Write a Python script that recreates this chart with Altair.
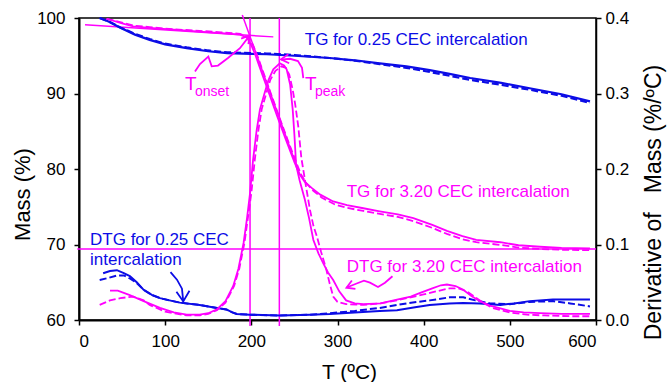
import altair as alt
import pandas as pd

BLUE = "#0c0ce6"
MAG = "#ff00ff"
FONT = "Liberation Sans"

# ---------------- data (T in ºC) ----------------
# TG for 0.25 CEC (Mass %)
tg025_T = [24, 35, 48, 65, 82, 100, 125, 150, 172, 200, 218, 250, 291, 320, 349, 380, 407, 430, 454, 490, 523, 560, 593]
tg025_m = [100.0, 99.5, 98.7, 97.8, 97.1, 96.5, 96.0, 95.6, 95.35, 95.25, 95.2, 95.0, 94.7, 94.4, 94.0, 93.6, 93.1, 92.6, 92.05, 91.4, 90.7, 89.9, 88.95]
tg025d_m = [100.0, 99.5, 98.75, 97.9, 97.2, 96.6, 96.1, 95.7, 95.45, 95.35, 95.3, 95.1, 94.7, 94.35, 93.9, 93.4, 92.85, 92.35, 91.8, 91.15, 90.5, 89.7, 88.75]

# TG for 3.20 CEC (Mass %)
tg320_T = [32, 50, 63, 82, 110, 140, 165, 187, 195, 200, 205, 210, 220, 230, 240, 250, 256, 262, 270, 280, 295, 311, 330, 349, 370, 388, 410, 427, 445, 461, 489, 510, 535, 560, 593]
tg320_m = [99.9, 99.3, 98.9, 98.7, 98.45, 98.2, 98.0, 97.8, 97.4, 96.4, 95.0, 93.4, 90.2, 87.0, 83.9, 80.9, 79.3, 78.3, 77.5, 76.6, 75.7, 75.2, 74.8, 74.4, 74.0, 73.5, 72.6, 71.8, 71.1, 70.6, 70.3, 69.9, 69.7, 69.55, 69.5]
tg320d_T = [32, 50, 63, 82, 110, 140, 165, 187, 197, 202, 207, 212, 222, 232, 242, 252, 258, 264, 272, 282, 297, 311, 330, 349, 370, 388, 410, 427, 445, 461, 489, 510, 535, 560, 593]
tg320d_m = [99.9, 99.4, 99.0, 98.8, 98.5, 98.3, 98.1, 97.9, 97.4, 96.4, 95.0, 93.4, 90.2, 87.0, 83.9, 80.9, 79.2, 78.1, 77.1, 76.2, 75.3, 74.85, 74.45, 74.05, 73.65, 73.1, 72.2, 71.4, 70.7, 70.3, 69.95, 69.6, 69.4, 69.3, 69.25]

# DTG for 3.20 CEC (%/ºC)
dtg320_T = [36, 45, 59, 75, 94, 110, 125, 140, 150, 160, 170, 179, 185, 191, 195, 198.5, 202, 206, 210, 216, 220, 225.5, 233, 238, 241, 245, 248, 250, 252, 256, 262, 267, 272, 278, 283.5, 289, 295, 302, 310, 320, 330, 350, 369, 385, 396, 410, 420, 427, 437, 446, 455, 465, 477, 500, 516, 535, 560, 593]
dtg320_v = [0.039, 0.039, 0.033, 0.025, 0.016, 0.010, 0.007, 0.007, 0.009, 0.014, 0.025, 0.045, 0.068, 0.102, 0.135, 0.168, 0.212, 0.250, 0.279, 0.303, 0.318, 0.332, 0.340, 0.337, 0.332, 0.312, 0.279, 0.245, 0.205, 0.185, 0.160, 0.135, 0.106, 0.088, 0.075, 0.063, 0.053, 0.038, 0.026, 0.022, 0.021, 0.022, 0.027, 0.031, 0.036, 0.042, 0.046, 0.047, 0.045, 0.040, 0.032, 0.025, 0.019, 0.012, 0.010, 0.009, 0.008, 0.008]
dtg320d_T = [24, 36, 48, 63, 75, 82, 100, 125, 140, 150, 160, 170, 180, 186, 192, 196, 200, 204, 208, 212, 218, 222, 228, 235, 240, 244, 248, 251, 254.5, 258, 263, 268, 272, 276, 281, 287, 291, 295, 300, 310, 330, 350, 369, 385, 400, 415, 430, 440, 450, 460, 470, 480, 500, 520, 540, 570, 593]
dtg320d_v = [0.020, 0.026, 0.029, 0.031, 0.026, 0.020, 0.011, 0.006, 0.006, 0.008, 0.013, 0.023, 0.045, 0.068, 0.102, 0.135, 0.168, 0.212, 0.250, 0.279, 0.303, 0.318, 0.330, 0.336, 0.334, 0.325, 0.305, 0.285, 0.256, 0.215, 0.180, 0.146, 0.125, 0.111, 0.090, 0.067, 0.048, 0.031, 0.024, 0.021, 0.020, 0.022, 0.026, 0.030, 0.034, 0.038, 0.042, 0.042, 0.038, 0.030, 0.022, 0.016, 0.010, 0.007, 0.006, 0.005, 0.005]

# DTG for 0.25 CEC (%/ºC)
dtg025_T = [28, 36, 44, 52, 59, 67, 75, 85, 94, 105, 117, 140, 160, 171, 178, 183, 198, 233, 268, 291, 320, 349, 369, 390, 407, 430, 446, 465, 489, 505, 523, 550, 593]
dtg025_v = [0.062, 0.065, 0.066, 0.062, 0.058, 0.050, 0.040, 0.033, 0.029, 0.026, 0.023, 0.020, 0.016, 0.014, 0.010, 0.008, 0.007, 0.006, 0.007, 0.008, 0.010, 0.012, 0.013, 0.017, 0.020, 0.022, 0.0225, 0.022, 0.020, 0.022, 0.025, 0.027, 0.027]
dtg025d_T = [24, 35, 44, 52, 59, 67, 75, 85, 94, 105, 117, 140, 160, 171, 178, 183, 198, 233, 268, 291, 320, 349, 380, 407, 430, 446, 460, 477, 500, 523, 550, 570, 593]
dtg025d_v = [0.053, 0.056, 0.059, 0.059, 0.055, 0.049, 0.040, 0.033, 0.029, 0.026, 0.023, 0.020, 0.016, 0.014, 0.010, 0.008, 0.007, 0.006, 0.007, 0.009, 0.012, 0.016, 0.022, 0.026, 0.030, 0.030, 0.026, 0.022, 0.021, 0.024, 0.025, 0.022, 0.018]

# construction lines (Mass % units)
tan1_T = [7, 225.5]
tan1_m = [99.1, 97.5]
tan2_T = [189.5, 256]
tan2_m = [100.4, 79.3]
vline_T = [198.5, 232.5]
vline_top = 100.0
vline_bot = 59.2
hline_T = [-2, 600]
hline_m = [69.4, 69.4]

# hand-drawn arrows (Mass % units)
arr_onset_T = [134.6, 140.4, 150.1, 154, 161.3, 172.9, 186.8, 197.5]
arr_onset_m = [92.9, 93.9, 94.9, 93.6, 93.7, 94.7, 96.0, 97.6]
head_onset_T = [188.2, 197.9, 196.6]
head_onset_m = [97.26, 97.7, 96.54]
arr_peak_T = [260.3, 258.8, 254.1, 244.9, 234.4]
arr_peak_m = [92.05, 93.4, 94.3, 94.6, 94.5]
head_peak_T = [243.9, 234.4, 243.0]
head_peak_m = [94.0, 94.52, 95.19]
arr_d025_T = [106.2, 113.7, 119.5, 121.0]
arr_d025_m = [66.33, 65.34, 64.15, 62.46]
head_d025_T = [113.1, 121.0, 128.2]
head_d025_m = [63.75, 62.46, 63.88]
arr_d320_T = [363.8, 355.1, 347, 337.7, 330.7, 321.5, 310.6]
arr_d320_m = [65.8, 64.94, 64.37, 64.94, 65.2, 64.8, 64.3]
head_d320_T = [320.8, 310.4, 316.7]
head_d320_m = [64.13, 64.28, 65.23]

# text annotations (Mass % units)
ann_text = ["TG for 0.25 CEC intercalation", "TG for 3.20 CEC intercalation",
            "DTG for 3.20 CEC intercalation", "DTG for 0.25 CEC", "intercalation"]
ann_T = [262.0, 310.7, 310.7, 12.8, 12.8]
ann_m = [97.1, 77.0, 67.06, 70.6, 68.0]
ann_color = [BLUE, MAG, MAG, BLUE, BLUE]
tmain_text = ["T", "T"]
tmain_T = [123.0, 262.3]
tmain_m = [91.2, 91.2]
tsub_text = ["onset", "peak"]
tsub_T = [134.6, 273.9]
tsub_m = [90.15, 90.15]

# ---------------- encodings ----------------
X = alt.X("T:Q",
          scale=alt.Scale(domain=[0, 600], nice=False, zero=False),
          axis=alt.Axis(values=[0, 100, 200, 300, 400, 500, 600], title="T (ºC)",
                        domainWidth=2, tickWidth=1.5, tickSize=5, labelPadding=8,
                        titleX=270, titleY=52, titleBaseline="middle", titleAlign="center"))
YL = alt.Y("y:Q",
           scale=alt.Scale(domain=[60, 100], nice=False, zero=False),
           axis=alt.Axis(values=[60, 70, 80, 90, 100], title="Mass (%)", orient="left",
                         domainWidth=2, tickWidth=1.5, tickSize=5, labelPadding=9,
                         titleX=-57, titleY=176, titleAngle=270, titleFontSize=22,
                         titleBaseline="middle", titleAlign="center"))
YR = alt.Y("y:Q",
           scale=alt.Scale(domain=[0, 0.4], nice=False, zero=False),
           axis=alt.Axis(values=[0, 0.1, 0.2, 0.3, 0.4], format=".1f", orient="right",
                         title="Derivative of\u00a0\u00a0 Mass (%/ºC)", titleFontSize=23,
                         domainWidth=1.5, tickWidth=1.5, tickSize=5, labelPadding=4,
                         titleX=57, titleY=184, titleAngle=270,
                         titleBaseline="middle", titleAlign="center"))


def frame(T, y):
    return pd.DataFrame({"T": T, "y": y, "i": list(range(len(T)))})


def line(T, y, color, Y, dash=None, width=2.0):
    kw = dict(color=color, strokeWidth=width, clip=False)
    if dash:
        kw["strokeDash"] = dash
    return alt.Chart(frame(T, y)).mark_line(**kw).encode(x=X, y=Y, order="i:Q")


DASH = [7, 3]

left_layers = [
    line(tan1_T, tan1_m, MAG, YL, width=1.5),
    line(tan2_T, tan2_m, MAG, YL, width=1.5),
    line(hline_T, hline_m, MAG, YL, width=1.5),
    line([vline_T[0], vline_T[0]], [vline_top, vline_bot], MAG, YL, width=1.5),
    line([vline_T[1], vline_T[1]], [vline_top, vline_bot], MAG, YL, width=1.5),
    line(tg025_T, tg025d_m, BLUE, YL, dash=DASH, width=2.2),
    line(tg025_T, tg025_m, BLUE, YL, width=2.2),
    line(tg320d_T, tg320d_m, MAG, YL, dash=DASH, width=1.8),
    line(tg320_T, tg320_m, MAG, YL, width=1.8),
    line(arr_onset_T, arr_onset_m, MAG, YL, width=1.8),
    line(head_onset_T, head_onset_m, MAG, YL, width=1.8),
    line(arr_peak_T, arr_peak_m, MAG, YL, width=1.8),
    line(head_peak_T, head_peak_m, MAG, YL, width=1.8),
    line(arr_d025_T, arr_d025_m, BLUE, YL, width=1.8),
    line(head_d025_T, head_d025_m, BLUE, YL, width=1.8),
    line(arr_d320_T, arr_d320_m, MAG, YL, width=1.8),
    line(head_d320_T, head_d320_m, MAG, YL, width=1.8),
]

ann_df = pd.DataFrame({"T": ann_T, "y": ann_m, "label": ann_text, "c": ann_color})
left_layers.append(
    alt.Chart(ann_df).mark_text(align="left", baseline="middle", font=FONT, fontSize=17)
    .encode(x=X, y=YL, text="label:N", color=alt.Color("c:N", scale=None)))
tm_df = pd.DataFrame({"T": tmain_T, "y": tmain_m, "label": tmain_text})
left_layers.append(
    alt.Chart(tm_df).mark_text(align="left", baseline="middle", font=FONT, fontSize=19, color=MAG)
    .encode(x=X, y=YL, text="label:N"))
ts_df = pd.DataFrame({"T": tsub_T, "y": tsub_m, "label": tsub_text})
left_layers.append(
    alt.Chart(ts_df).mark_text(align="left", baseline="middle", font=FONT, fontSize=14, color=MAG)
    .encode(x=X, y=YL, text="label:N"))

right_layers = [
    line(dtg025d_T, dtg025d_v, BLUE, YR, dash=DASH, width=2.0),
    line(dtg025_T, dtg025_v, BLUE, YR, width=2.0),
    line(dtg320d_T, dtg320d_v, MAG, YR, dash=DASH, width=1.8),
    line(dtg320_T, dtg320_v, MAG, YR, width=1.8),
]

left = alt.layer(*left_layers)
right = alt.layer(*right_layers)

chart = (
    alt.layer(left, right)
    .resolve_scale(y="independent")
    .properties(width=517, height=302,
                padding={"left": 79, "top": 18, "right": 71, "bottom": 62},
                autosize=alt.AutoSizeParams(type="none"))
    .configure_view(stroke="black", strokeWidth=1.5)
    .configure_axis(grid=False, domainColor="black", tickColor="black",
                    labelColor="black", titleColor="black",
                    labelFont=FONT, titleFont=FONT, labelFontSize=17,
                    titleFontSize=21, titleFontWeight="normal")
)

chart.save("out.html", embed_options={"renderer": "svg", "actions": False})
